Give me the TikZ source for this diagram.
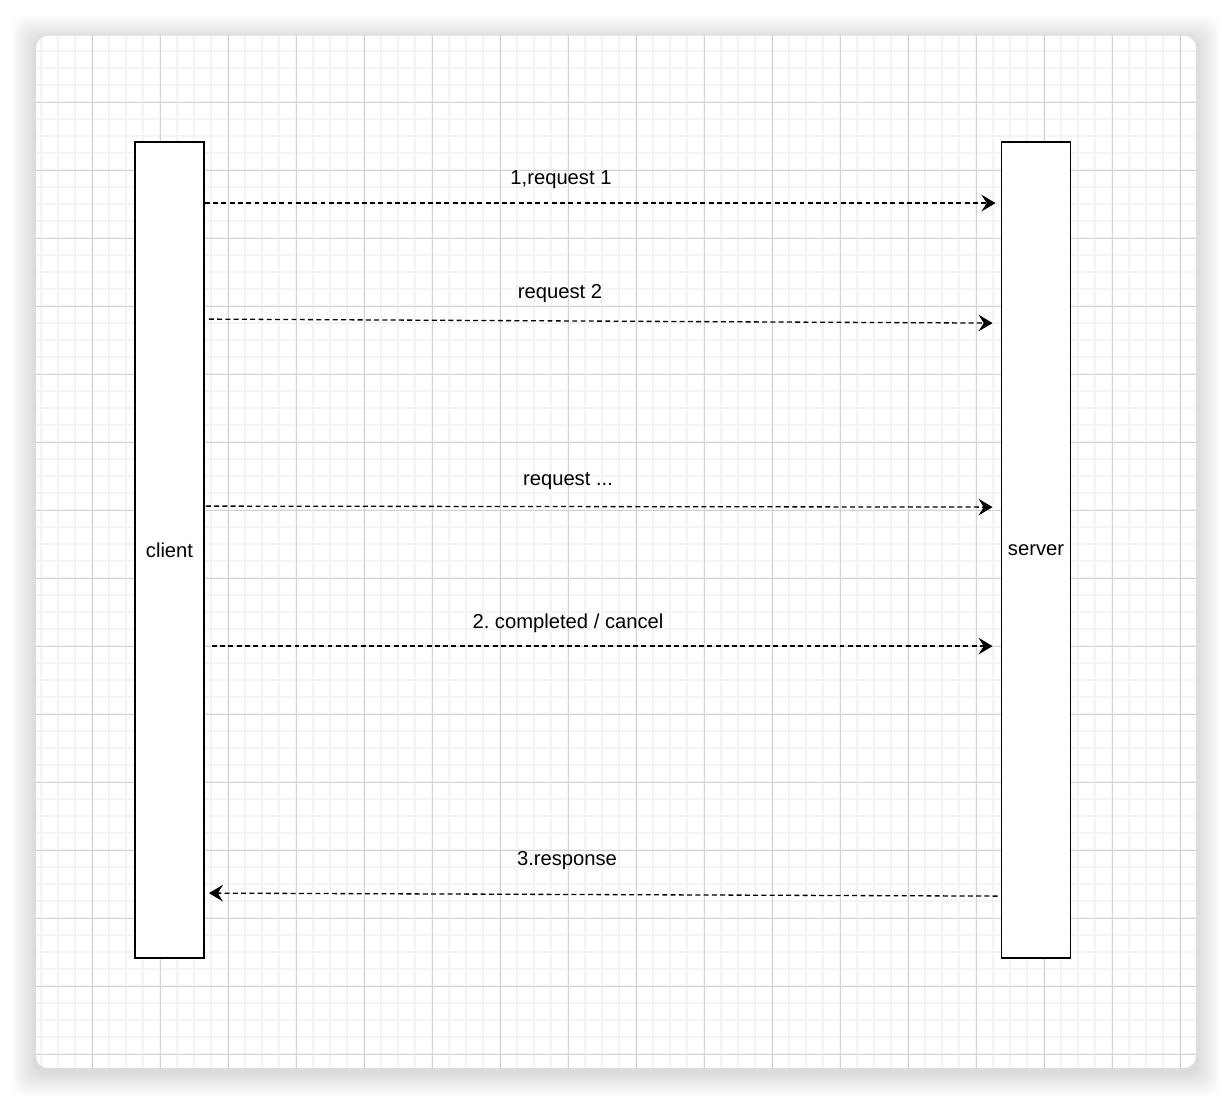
\documentclass[tikz,border=0pt]{standalone}
\usepackage{fontspec}
\setmainfont{Liberation Sans}
\usetikzlibrary{arrows.meta,calc}
\definecolor{gridminor}{HTML}{F4F4F4}
\definecolor{gridmajor}{HTML}{D2D2D2}
\tikzset{
  lifeline/.style={rectangle, draw, line width=1.1pt, fill=white,
                   inner sep=0pt, minimum width=1.38cm, minimum height=16.32cm,
                   font=\fontsize{11.5}{13}\selectfont},
  msg/.style={-{Stealth[length=8pt, width=9.5pt, inset=3pt]},
              line width=0.75pt, dash pattern=on 2.8pt off 1.9pt},
  lbl/.style={font=\fontsize{11.5}{13}\selectfont, inner sep=1pt}
}
\frenchspacing
\begin{document}
\begin{tikzpicture}[x=0.02cm, y=-0.02cm]
  \useasboundingbox (0,0) rectangle (1232,1104);
  % shadow and card
  \foreach \i in {2,4,...,24}
    \fill[black, opacity=0.01, rounded corners=0.24cm]
      (36-\i,36-\i+4) rectangle (1196+\i,1068+\i+4);
  \fill[white, rounded corners=0.24cm] (36,36) rectangle (1196,1068);
  % grid
  \begin{scope}
    \clip[rounded corners=0.24cm] (36,36) rectangle (1196,1068);
    \foreach \x in {41,58,...,1195}
      \draw[gridminor, line width=0.6pt] (\x,36) -- (\x,1068);
    \foreach \y in {51,68,...,1067}
      \draw[gridminor, line width=0.6pt] (36,\y) -- (1196,\y);
    \foreach \x in {92,160,...,1195}
      \draw[gridmajor, line width=0.5pt] (\x,36) -- (\x,1068);
    \foreach \y in {102,170,...,1067}
      \draw[gridmajor, line width=0.5pt] (36,\y) -- (1196,\y);
  \end{scope}

  \node[lifeline] (client) at (169.5,550) {client};
  \node[lifeline] (server) at (1036,550) {server};

  \node[lbl] (req1) at (561,180) {1,request 1};
  \node[lbl] (req2) at (560,294) {request 2};
  \node[lbl] (reqn) at (568,481) {request ...};
  \node[lbl] (done) at (568,623) {2. completed / cancel};
  \node[lbl] (resp) at (567,861) {3.response};

  \draw[msg] ($(client.north east)+(0,62)$) -- ($(server.north west)+(-5,62)$);
  \draw[msg] ($(client.north east)+(4,178)$) -- ($(server.north west)+(-8,182)$);
  \draw[msg] ($(client.north east)+(1,365)$) -- ($(server.north west)+(-8,366)$);
  \draw[msg] ($(client.north east)+(7,505)$) -- ($(server.north west)+(-8,505)$);
  \draw[msg] ($(server.north west)+(-3,755)$) -- ($(client.north east)+(4,752)$);
\end{tikzpicture}
\end{document}
